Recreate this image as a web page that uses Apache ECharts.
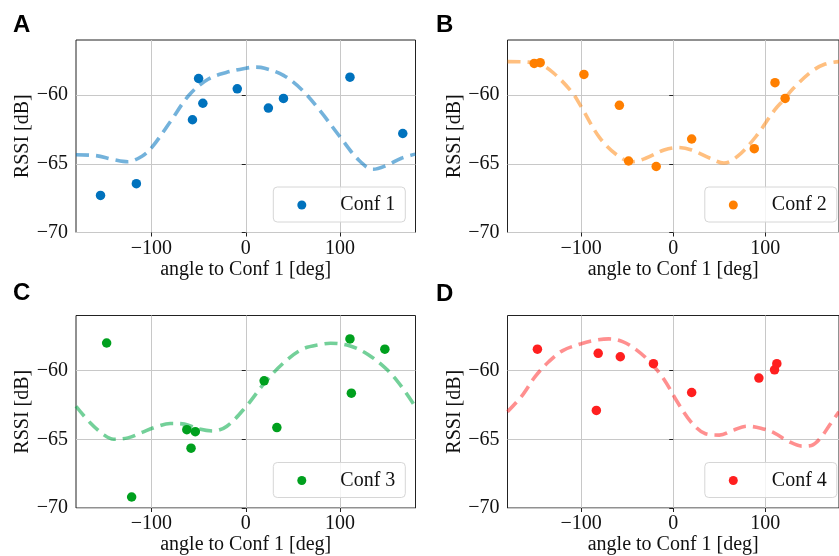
<!DOCTYPE html>
<html>
<head>
<meta charset="utf-8">
<script src="https://cdn.jsdelivr.net/npm/echarts@6/dist/echarts.min.js"></script>
<style>
  html, body { margin: 0; padding: 0; background: #fff; }
  #chart { width: 839px; height: 556px; }
</style>
</head>
<body>
<div id="chart"></div>
<script>
// Measured RSSI per configuration (angle in degrees, RSSI in dB)
const conf1Angle = [-154, -116, -56.5, -50, -45.5, -9, 24, 40, 110.5, 166.5];
const conf1Rssi  = [-67.3, -66.45, -61.8, -58.8, -60.6, -59.55, -60.95, -60.25, -58.7, -62.8];

const conf2Angle = [-151, -144.5, -97, -58.5, -48.5, -18.5, 20, 88, 110.5, 121.5];
const conf2Rssi  = [-57.7, -57.65, -58.5, -60.75, -64.8, -65.2, -63.2, -63.9, -59.1, -60.25];

const conf3Angle = [-147.5, -121, -62.5, -58, -53.5, 19.5, 33, 110.5, 112, 147.5];
const conf3Rssi  = [-58.0, -69.2, -64.3, -65.65, -64.45, -60.75, -64.15, -57.7, -61.65, -58.45];

const conf4Angle = [-147.5, -81.5, -83.5, -57.5, -21.5, 20, 93, 110, 112.5];
const conf4Rssi  = [-58.45, -58.75, -62.9, -59.0, -59.5, -61.6, -60.55, -59.95, -59.5];

// Fitted curves (dashed)
const fit1Angle = [-180, -160, -140, -125, -110, -100, -80, -60, -40, -20, 0, 10, 20, 40, 60, 80, 100, 120, 135, 150, 165, 180];
const fit1Rssi  = [-64.35, -64.4, -64.7, -64.85, -64.45, -63.85, -61.95, -60.0, -58.85, -58.35, -58.05, -57.97, -58.05, -58.57, -59.65, -61.25, -63.05, -64.75, -65.4, -65.1, -64.6, -64.3];

const fit2Angle = [-180, -160, -145, -130, -110, -100, -80, -60, -45, -30, -10, 5, 20, 40, 55, 70, 90, 110, 120, 130, 150, 165, 180];
const fit2Rssi  = [-57.57, -57.6, -57.75, -58.4, -59.8, -60.85, -63.1, -64.42, -64.85, -64.6, -64.0, -63.82, -64.0, -64.6, -64.95, -64.45, -63.0, -61.1, -60.35, -59.55, -58.3, -57.75, -57.57];

const fit3Angle = [-180, -165, -150, -140, -125, -110, -95, -80, -65, -50, -35, -20, 0, 20, 40, 60, 80, 90, 110, 130, 150, 165, 180];
const fit3Rssi  = [-62.6, -63.8, -64.7, -65.0, -64.9, -64.5, -64.1, -63.85, -63.9, -64.25, -64.4, -64.05, -62.65, -60.9, -59.45, -58.45, -58.1, -58.02, -58.2, -58.85, -59.95, -61.15, -62.65];

const fit4Angle = [-180, -165, -150, -135, -120, -100, -85, -70, -55, -40, -25, -10, 5, 20, 35, 50, 65, 80, 95, 110, 125, 140, 150, 160, 170, 180];
const fit4Rssi  = [-63.0, -61.9, -60.45, -59.35, -58.55, -58.05, -57.8, -57.7, -57.9, -58.5, -59.4, -60.65, -62.35, -63.8, -64.6, -64.7, -64.35, -64.05, -64.2, -64.55, -65.15, -65.5, -65.45, -64.9, -63.95, -63.0];

// Axis ticks and labels
const xTicks = [-100, 0, 100];
const yTicks = [-70, -65, -60];
const panelLetters = ['A', 'B', 'C', 'D'];
const seriesNames = ['Conf 1', 'Conf 2', 'Conf 3', 'Conf 4'];
const xAxisTitle = 'angle to Conf 1 [deg]';
const yAxisTitle = 'RSSI [dB]';

const pointColors = ['#0072BD', '#FF7F00', '#00A01E', '#FF1F1F'];
const lineColors = ['rgba(0,114,189,0.55)', 'rgba(255,127,0,0.5)', 'rgba(0,170,70,0.55)', 'rgba(255,31,31,0.5)'];

const pointSets = [
  [conf1Angle, conf1Rssi],
  [conf2Angle, conf2Rssi],
  [conf3Angle, conf3Rssi],
  [conf4Angle, conf4Rssi]
];
const fitSets = [
  [fit1Angle, fit1Rssi],
  [fit2Angle, fit2Rssi],
  [fit3Angle, fit3Rssi],
  [fit4Angle, fit4Rssi]
];

const pairs = (xs, ys) => xs.map((x, i) => [x, ys[i]]);
const minus = v => String(v).replace('-', '\u2212');

const SERIF = '"Liberation Serif", "Times New Roman", serif';
const FS = 20;

// panel layout: grid boxes in pixels
const cells = [
  { left: 76,    top: 40,    letterX: 13,  letterY: 13 },
  { left: 507.5, top: 40,    letterX: 436, letterY: 13 },
  { left: 76,    top: 315.5, letterX: 13,  letterY: 281 },
  { left: 507.5, top: 315.5, letterX: 436, letterY: 282 }
];
const gridW = 339.5, gridH = 192.5;

const grids = [], xAxes = [], yAxes = [], series = [], legends = [], titles = [];

cells.forEach((c, i) => {
  grids.push({
    left: c.left, top: c.top, width: gridW, height: gridH,
    show: true, borderColor: '#222', borderWidth: 1, backgroundColor: 'transparent'
  });
  xAxes.push({
    type: 'value', gridIndex: i, min: -180, max: 180,
    name: xAxisTitle, nameLocation: 'middle', nameGap: 27,
    nameTextStyle: { fontFamily: SERIF, fontSize: FS, color: '#111' },
    axisLine: { show: false },
    axisTick: { show: true, customValues: xTicks, length: 4, inside: false, lineStyle: { color: '#222' } },
    axisLabel: { customValues: xTicks, margin: 6, fontFamily: SERIF, fontSize: FS, color: '#111', formatter: minus },
    splitLine: { show: true, lineStyle: { color: '#c8c8c8', width: 1 } }
  });
  yAxes.push({
    type: 'value', gridIndex: i, min: -70, max: -56, interval: 5,
    name: yAxisTitle, nameLocation: 'middle', nameGap: 43,
    nameTextStyle: { fontFamily: SERIF, fontSize: FS, color: '#111' },
    axisLine: { show: false },
    axisTick: { show: true, customValues: yTicks, length: 4, inside: false, lineStyle: { color: '#222' } },
    axisLabel: { customValues: yTicks, margin: 8, fontFamily: SERIF, fontSize: FS, color: '#111', formatter: minus },
    splitLine: { show: true, lineStyle: { color: '#c8c8c8', width: 1 } }
  });
  series.push({
    name: seriesNames[i] + ' fit',
    type: 'line', xAxisIndex: i, yAxisIndex: i,
    data: pairs(fitSets[i][0], fitSets[i][1]),
    smooth: 0.35, showSymbol: false, silent: true, z: 2,
    lineStyle: { color: lineColors[i], width: 3.6, type: [13, 7], cap: 'butt' }
  });
  series.push({
    name: seriesNames[i],
    type: 'scatter', xAxisIndex: i, yAxisIndex: i,
    data: pairs(pointSets[i][0], pointSets[i][1]),
    symbol: 'circle', symbolSize: 9.5, z: 3,
    itemStyle: { color: pointColors[i], opacity: 1 }
  });
  legends.push({
    data: [seriesNames[i]],
    left: c.left + 197.3, top: c.top + 147,
    orient: 'horizontal',
    itemWidth: 9, itemHeight: 9,
    padding: [8, 10, 7, 24],
    backgroundColor: 'rgba(255,255,255,0.8)',
    borderColor: '#d6d6d6', borderWidth: 1, borderRadius: 4,
    selectedMode: false,
    formatter: n => '{t|' + n + '}',
    textStyle: {
      fontFamily: SERIF, fontSize: FS, color: '#111',
      rich: { t: { fontFamily: SERIF, fontSize: FS, color: '#111', padding: [0, 0, 0, 29] } }
    }
  });
  titles.push({
    text: panelLetters[i], left: c.letterX, top: c.letterY, padding: 0,
    textStyle: { fontFamily: '"Liberation Sans", Arial, sans-serif', fontWeight: 'bold', fontSize: 24, color: '#000' }
  });
});

const chart = echarts.init(document.getElementById('chart'), null, { renderer: 'canvas' });
chart.setOption({
  animation: false,
  backgroundColor: '#fff',
  title: titles,
  grid: grids,
  xAxis: xAxes,
  yAxis: yAxes,
  legend: legends,
  series: series
});
</script>
</body>
</html>
